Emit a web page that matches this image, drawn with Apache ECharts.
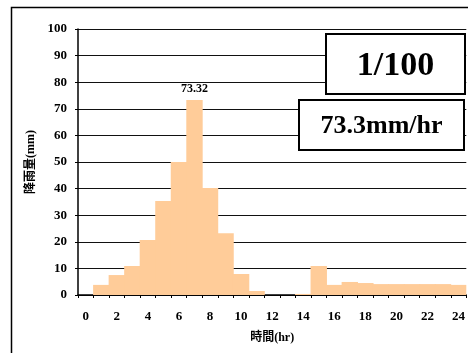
<!DOCTYPE html>
<html>
<head>
<meta charset="utf-8">
<script src="https://cdn.jsdelivr.net/npm/echarts@6/dist/echarts.min.js"></script>
<style>
  html, body { margin: 0; padding: 0; background: #fff; }
  #chart { width: 468px; height: 353px; }
</style>
</head>
<body>
<div id="chart"></div>
<script>
// hours 0..24
const hours = ['0', '1', '2', '3', '4', '5', '6', '7', '8', '9', '10', '11', '12',
  '13', '14', '15', '16', '17', '18', '19', '20', '21', '22', '23', '24'];
// rainfall per hour (mm)
const rainfall = [0, 3.8, 7.5, 10.9, 20.7, 35.3, 50.0, 73.32, 40.2, 23.2, 7.9, 1.5, 0,
  0, 0.4, 10.9, 3.8, 4.9, 4.5, 4.1, 4.1, 4.1, 4.1, 4.1, 3.8];
const peakIndex = 7;
const returnPeriod = '1/100';
const peakText = '73.3mm/hr';

const serif = '"Liberation Serif", "Noto Sans CJK JP", serif';
const barColor = '#FFCC99';

const chart = echarts.init(document.getElementById('chart'));

const option = {
  animation: false,
  grid: { left: 78, top: 29, right: 0, bottom: 58, containLabel: false },
  xAxis: {
    type: 'category',
    data: hours,
    name: '時間(hr)',
    nameLocation: 'middle',
    nameGap: 37,
    nameTextStyle: { fontFamily: serif, fontWeight: 'bold', fontSize: 12, color: '#000' },
    axisLine: { lineStyle: { color: '#000', width: 1.5 } },
    axisTick: { show: true, length: 3, lineStyle: { color: '#000' }, interval: 0 },
    axisLabel: {
      interval: 1,
      margin: 15,
      fontFamily: serif,
      fontWeight: 'bold',
      fontSize: 13,
      color: '#000'
    },
    splitLine: { show: false }
  },
  yAxis: {
    type: 'value',
    min: 0,
    max: 100,
    interval: 10,
    name: '降雨量(mm)',
    nameLocation: 'middle',
    nameGap: 37,
    nameTextStyle: { fontFamily: serif, fontWeight: 'bold', fontSize: 12, color: '#000' },
    axisLine: { show: true, lineStyle: { color: '#000', width: 1.5 } },
    axisTick: { show: true, length: 3, lineStyle: { color: '#000' } },
    axisLabel: {
      margin: 11,
      fontFamily: serif,
      fontWeight: 'bold',
      fontSize: 13,
      color: '#000'
    },
    splitLine: { show: true, lineStyle: { color: '#111', width: 1 } }
  },
  series: [{
    type: 'bar',
    data: rainfall.map(function (v, i) {
      if (i === peakIndex) {
        return {
          value: v,
          label: {
            show: true,
            position: 'top',
            distance: 5,
            formatter: '{c}',
            fontFamily: serif,
            fontWeight: 'bold',
            fontSize: 12,
            color: '#000'
          }
        };
      }
      return v;
    }),
    barWidth: 16.4,
    itemStyle: { color: barColor, borderWidth: 0 }
  }],
  graphic: [
    {
      type: 'rect',
      shape: { x: 11.5, y: 7.5, width: 600, height: 500 },
      style: { fill: null, stroke: '#000', lineWidth: 1.5 },
      silent: true
    },
    {
      type: 'rect',
      shape: { x: 326, y: 34, width: 139, height: 60 },
      style: { fill: '#fff', stroke: '#000', lineWidth: 2 },
      z: 10
    },
    {
      type: 'text',
      x: 395.5,
      y: 66,
      style: {
        text: returnPeriod,
        fontFamily: serif,
        fontWeight: 'bold',
        fontSize: 34,
        fill: '#000',
        align: 'center',
        verticalAlign: 'middle'
      },
      z: 11
    },
    {
      type: 'rect',
      shape: { x: 299, y: 100, width: 165, height: 50 },
      style: { fill: '#fff', stroke: '#000', lineWidth: 2 },
      z: 10
    },
    {
      type: 'text',
      x: 381.5,
      y: 126,
      style: {
        text: peakText,
        fontFamily: serif,
        fontWeight: 'bold',
        fontSize: 26,
        fill: '#000',
        align: 'center',
        verticalAlign: 'middle'
      },
      z: 11
    }
  ]
};

chart.setOption(option);
</script>
</body>
</html>
